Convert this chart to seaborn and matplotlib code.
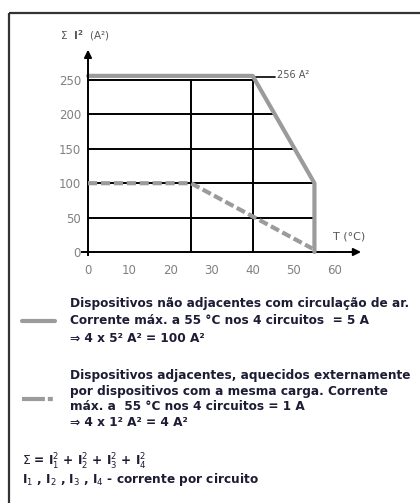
import numpy as np
import pandas as pd
import matplotlib.pyplot as plt
import seaborn as sns
from matplotlib.patches import Rectangle

# chart data
temp_solid = [0, 40, 55, 55]
i2_solid = [256, 256, 100, 0]
temp_dash = [0, 25, 54.5]
i2_dash = [100, 100, 5]
grid_temps = [25, 40]
grid_levels = [50, 100, 150, 200, 250]
x_major = [0, 10, 20, 30, 40, 50, 60]
x_minor = [5, 15, 25, 35, 45, 55]
y_major = [0, 50, 100, 150, 200, 250]
peak_label = '256 A²'

block1 = ['Dispositivos não adjacentes com circulação de ar.',
          'Corrente máx. a 55 °C nos 4 circuitos  = 5 A',
          '⇒ 4 x 5² A² = 100 A²']
block2 = ['Dispositivos adjacentes, aquecidos externamente',
          'por dispositivos com a mesma carga. Corrente',
          'máx. a  55 °C nos 4 circuitos = 1 A',
          '⇒ 4 x 1² A² = 4 A²']
sum_lines = [r'$\Sigma$ = $\mathbf{I}_1^2$ + $\mathbf{I}_2^2$ + $\mathbf{I}_3^2$ + $\mathbf{I}_4^2$',
             r'$\mathbf{I}_1$ , $\mathbf{I}_2$ , $\mathbf{I}_3$ , $\mathbf{I}_4$ - corrente por circuito']

sns.set_style('white')
plt.rcParams['font.family'] = ['DejaVu Sans']
plt.rcParams['mathtext.fontset'] = 'dejavusans'

grey = '#9b9b9b'
txt = '#1c1c34'
W, H = 420, 503
fig = plt.figure(figsize=(4.2, 5.03), dpi=100)

# main axes placed so that data maps onto the reference pixels
xlo, xhi, ylo, yhi = -6, 70, -20, 320
px_x, px_y = 4.117, 0.688
left = 88 + xlo * px_x
right = 88 + xhi * px_x
top = 252 - yhi * px_y
bot = 252 - ylo * px_y
ax = fig.add_axes([left / W, 1 - bot / H, (right - left) / W, (bot - top) / H])
ax.set_xlim(xlo, xhi)
ax.set_ylim(ylo, yhi)
ax.patch.set_alpha(0)

# gridlines stop at the solid curve
curve_x = np.interp(grid_levels, i2_solid[2::-1], temp_solid[2::-1])
for lvl, xe in zip(grid_levels, curve_x):
    ax.plot([0, min(xe, 55)], [lvl, lvl], color='black', lw=1.4, zorder=2)
for t in grid_temps:
    ax.plot([t, t], [0, 250], color='black', lw=1.4, zorder=2)

df_s = pd.DataFrame({'T': temp_solid, 'I2': i2_solid})
df_d = pd.DataFrame({'T': temp_dash, 'I2': i2_dash})
sns.lineplot(data=df_s, x='T', y='I2', sort=False, estimator=None, color=grey,
             lw=3, ax=ax, zorder=3)
sns.lineplot(data=df_d, x='T', y='I2', sort=False, estimator=None, color=grey,
             lw=3, ax=ax, zorder=3, linestyle=(0, (2.2, 0.9)))

# leader + label for the peak
ax.plot([40, 45.5], [254, 254], color='black', lw=1.2, zorder=2)
ax.text(46, 257, peak_label, fontsize=7, color='#555555', va='center', ha='left')

# axes through the origin
for s in ['top', 'right']:
    ax.spines[s].set_visible(False)
ax.spines['left'].set_position(('data', 0))
ax.spines['bottom'].set_position(('data', 0))
ax.spines['left'].set_bounds(-4, 250)
ax.spines['bottom'].set_bounds(-1.5, 60)
for s in ['left', 'bottom']:
    ax.spines[s].set_linewidth(1.4)
    ax.spines[s].set_color('black')
ax.annotate('', xy=(0, 298), xytext=(0, 248),
            arrowprops=dict(arrowstyle='-|>', lw=1.4, color='black', mutation_scale=11))
ax.annotate('', xy=(67, 0), xytext=(58, 0),
            arrowprops=dict(arrowstyle='-|>', lw=1.4, color='black', mutation_scale=11))

ax.set_xticks(x_major)
ax.set_xticks(x_minor, minor=True)
ax.set_yticks(y_major)
ax.tick_params(axis='both', which='both', direction='out', width=1.4, color='black',
               labelcolor='#808080', labelsize=8.5)
ax.tick_params(axis='x', which='both', length=4.5, pad=4)
ax.tick_params(axis='y', length=4.5, pad=0.5)
ax.set_xlabel('')
ax.set_ylabel('')

ax.text(-0.7, 315, r'$\Sigma$  $\mathbf{I^2}$  (A²)', fontsize=7.5, color='#555555',
        ha='center', va='center')
ax.text(59.5, 22, 'T (°C)', fontsize=8, color='#555555', ha='left', va='center')

# overlay in pixel coordinates for frame and text legend
ov = fig.add_axes([0, 0, 1, 1], zorder=-1)
ov.set_xlim(0, W)
ov.set_ylim(H, 0)
ov.axis('off')
ov.add_patch(Rectangle((8.5, 12.5), W, H, fill=False, lw=1.6, edgecolor='#333333'))

ov.plot([22, 55], [321, 321], color=grey, lw=3)
ov.plot([22, 54], [399, 399], color=grey, lw=3, linestyle=(0, (5.5, 0.7, 1.2, 10)))

fs = 8.7
for y, line in zip([304, 321, 338], block1):
    ov.text(70, y, line, fontsize=fs, fontweight='bold', color=txt, va='center')
for y, line in zip([375, 391, 407, 423], block2):
    ov.text(70, y, line, fontsize=fs, fontweight='bold', color=txt, va='center')
for y, line in zip([462, 479], sum_lines):
    ov.text(22, y, line, fontsize=fs, fontweight='bold', color=txt, va='center')

fig.savefig('out.png', dpi=100)
